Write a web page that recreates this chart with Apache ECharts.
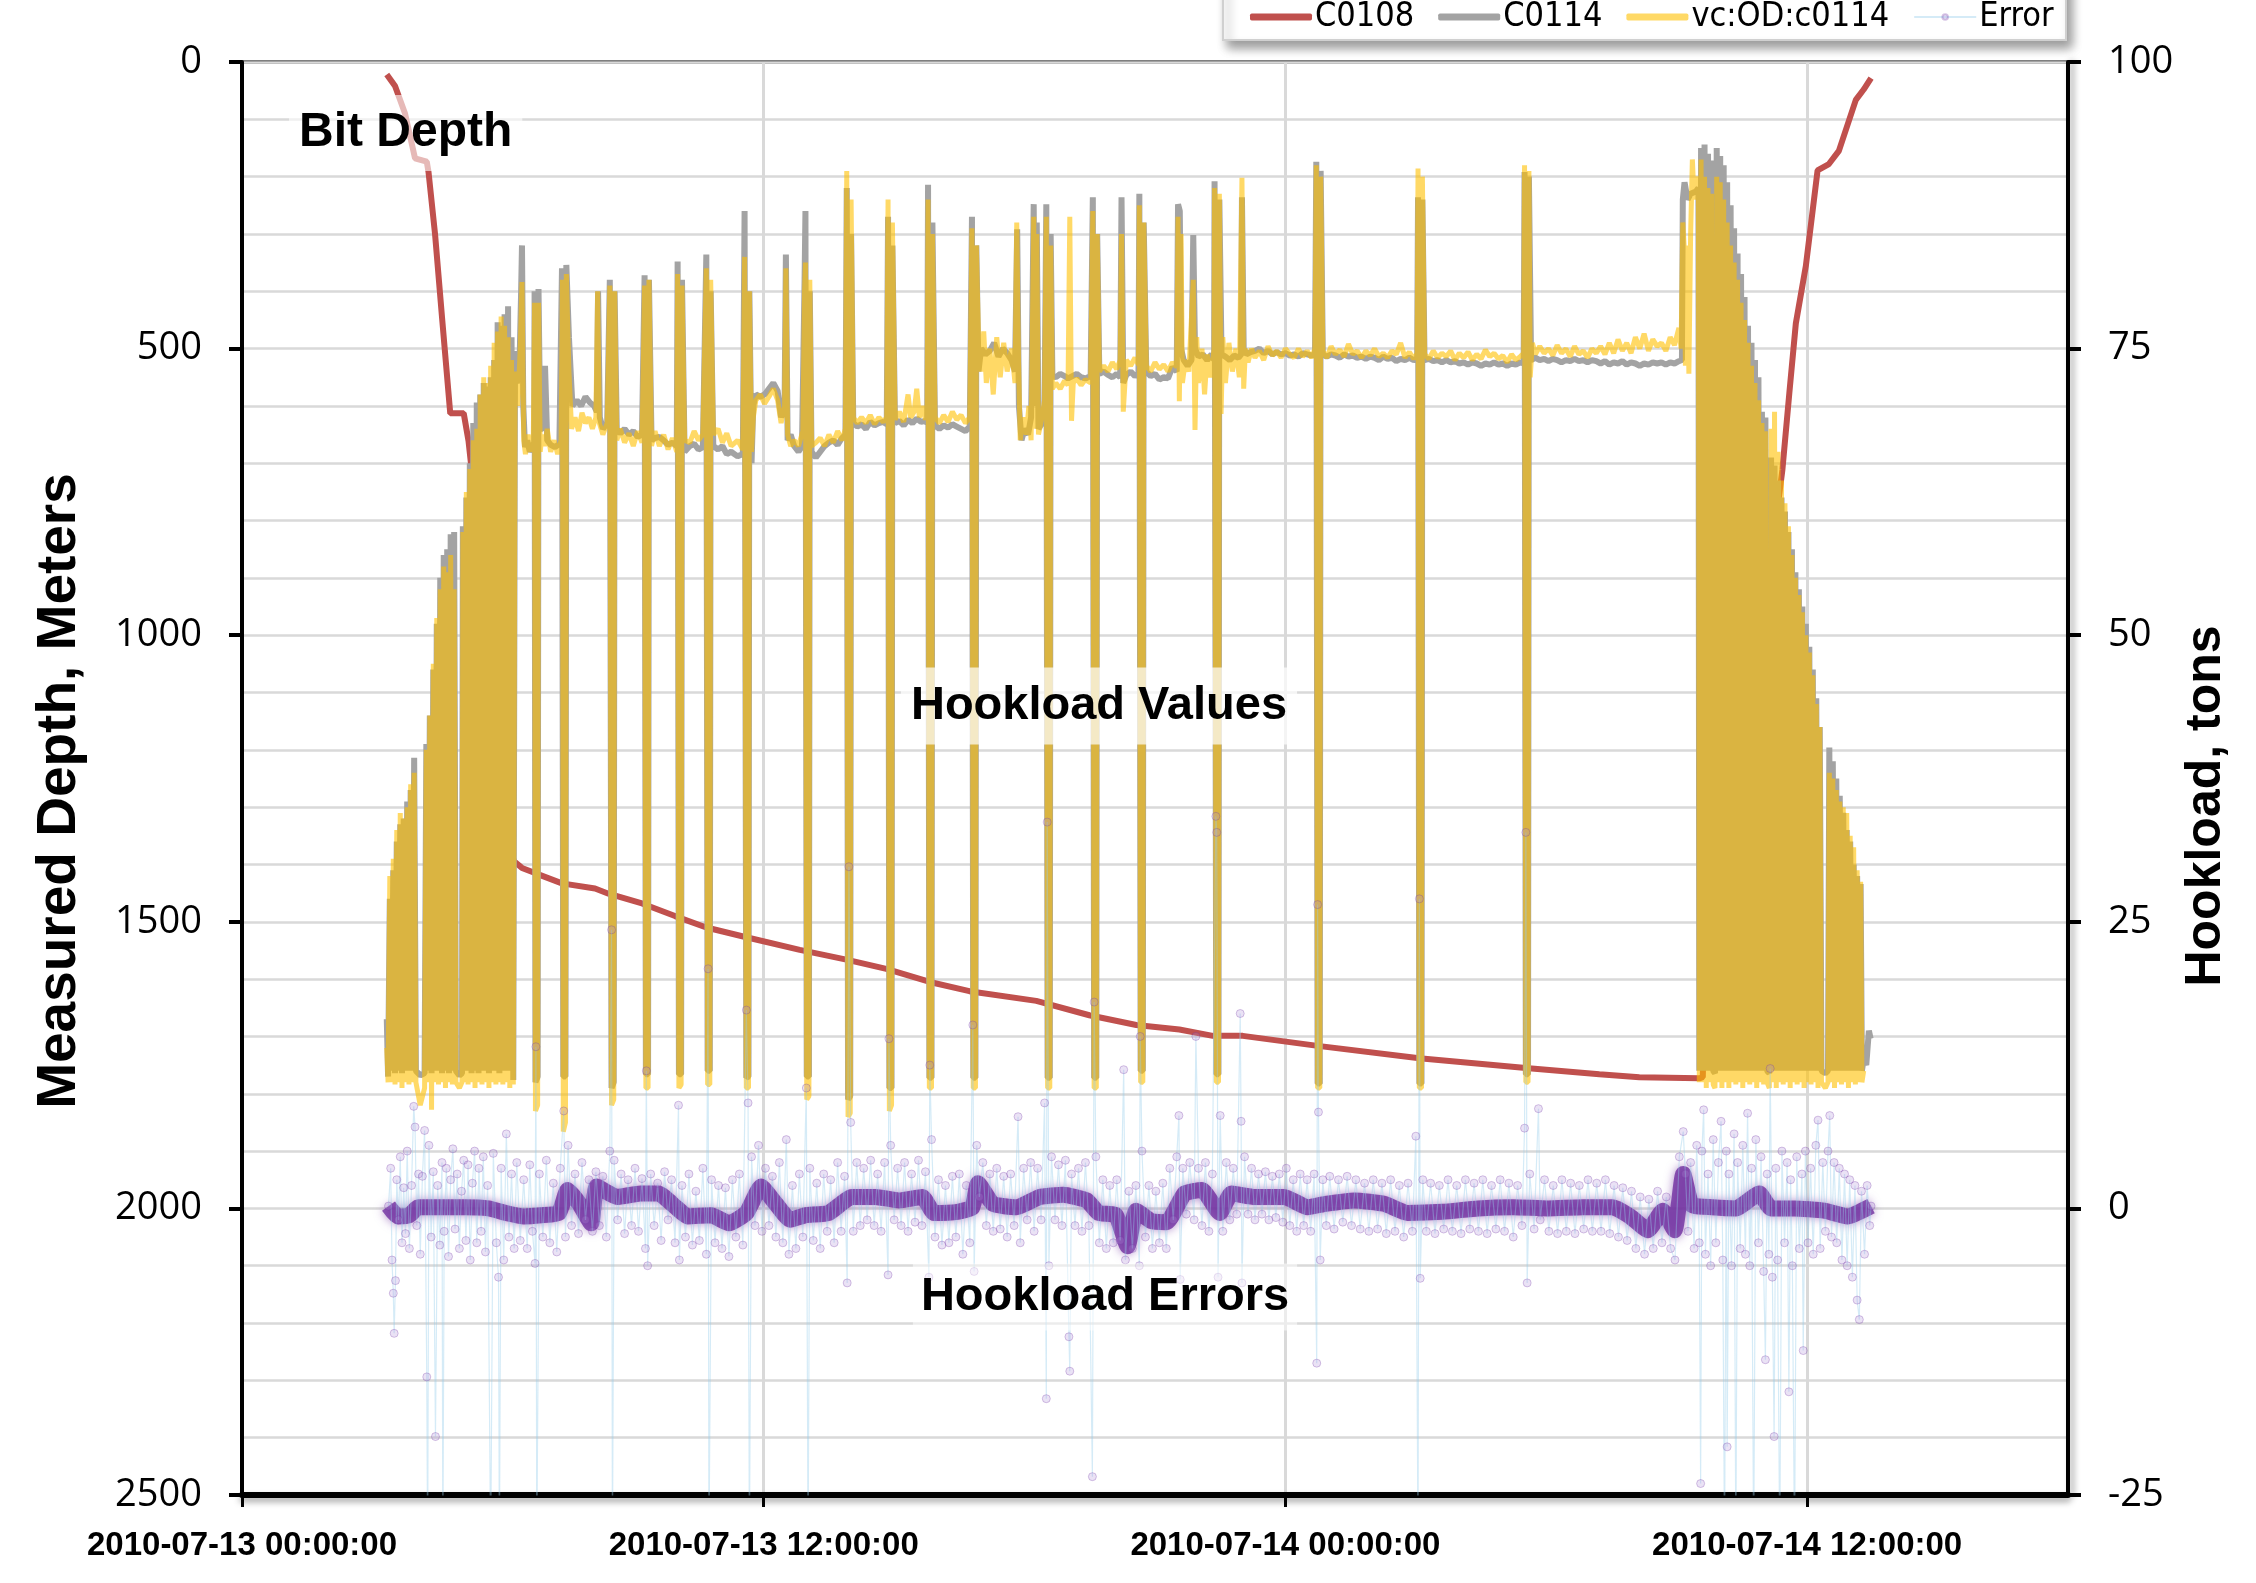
<!DOCTYPE html>
<html><head><meta charset="utf-8">
<script src="https://cdn.jsdelivr.net/npm/echarts@6/dist/echarts.min.js"></script>
<style>html,body{margin:0;padding:0;background:#fff}#c{width:2256px;height:1583px}</style>
</head><body><div id="c"></div>
<script>
// ---- tick labels ----
const xTickHours = [0, 12, 24, 36];
const xTickLabels = ['2010-07-13 00:00:00', '2010-07-13 12:00:00', '2010-07-14 00:00:00', '2010-07-14 12:00:00'];

// ---- C0108 : bit depth (m) vs hours since 2010-07-13 00:00 ----
const bitDepth = [[3.33,22],[3.52,42],[3.75,90],[3.98,168],[4.25,174],[4.29,192],[4.44,300],[4.60,445],[4.79,613],[5.10,613],[5.21,661],[5.33,745],[5.52,865],[5.75,1045],[5.98,1226],[6.13,1358],[6.25,1394],[6.44,1406],[6.74,1415],[7.36,1433],[8.12,1442],[8.43,1451],[9.20,1468],[9.96,1490],[10.68,1510],[11.60,1527],[12.83,1549],[13.90,1566],[14.82,1582],[15.82,1605],[16.73,1621],[18.27,1638],[19.49,1663],[20.57,1680],[21.56,1688],[22.33,1699],[23.02,1699],[24.70,1716],[27.08,1738],[29.53,1755],[31.22,1766],[32.14,1771],[33.52,1773],[33.60,1771],[33.62,1690],[33.74,1680],[33.88,1680],[33.98,1624],[34.28,1435],[34.59,1246],[34.90,1012],[35.05,879],[35.16,879],[35.28,801],[35.43,712],[35.59,578],[35.74,456],[35.97,356],[36.24,189],[36.50,178],[36.73,155],[37.12,66],[37.30,48],[37.47,28]];

// ---- C0114 : hookload (tons) ----
const hookC0114 = [[3.33,16.5],[3.36,11.5],[3.40,27],[3.44,12],[3.48,29.5],[3.52,11.8],[3.56,32],[3.60,12],[3.64,33.5],[3.68,11.8],[3.72,34],[3.76,12],[3.80,35.5],[3.84,12],[3.88,36.5],[3.92,12],[3.96,39.3],[4.00,12],[4.10,11.6],[4.20,11.8],
[4.24,40.5],[4.28,12],[4.32,43],[4.36,11.8],[4.40,47],[4.44,12],[4.48,51],[4.52,12],[4.56,55],[4.60,11.8],[4.64,57],[4.68,12],[4.72,57.5],[4.76,11.8],[4.80,58.8],[4.84,12],[4.88,59],[4.92,12],[5.00,11.6],[5.06,11.8],
[5.08,59.5],[5.12,12],[5.16,62],[5.20,12],[5.24,65],[5.28,11.8],[5.32,68.5],[5.36,12],[5.40,70.3],[5.44,11.8],[5.48,71],[5.52,12],[5.56,72],[5.60,12],[5.64,71.7],[5.68,11.8],[5.72,72.5],[5.76,12],[5.80,74],[5.84,12],[5.88,77.3],[5.92,11.8],[5.96,77],[6.00,12],[6.04,78],[6.08,12],[6.12,78.7],[6.16,12],[6.20,76],[6.24,11.2],
[6.28,74.8],[6.32,72],[6.38,73],[6.42,80],[6.44,84],[6.47,70],[6.51,66.4],[6.56,67],[6.62,66],[6.68,66.5],[6.72,66.8],
[6.73,80],[6.75,11],[6.80,11.5],[6.82,80.2],[6.86,68],[6.92,68],[6.97,73.5],[7.02,67],[7.10,66.6],[7.20,66.4],[7.30,66.7],
[7.36,82],[7.39,11.5],[7.44,11.5],[7.46,82.3],[7.52,76],[7.60,70],[7.70,70.5],[7.80,70],[7.90,70.8],[8.00,70.3],[8.10,70],[8.16,69.5],[8.19,80],[8.23,69],[8.30,68],[8.40,68.5],
[8.46,81],[8.50,10.5],[8.55,11],[8.57,80],[8.62,68],[8.70,67.6],[8.80,68],[8.90,67.5],[9.00,67.8],[9.10,67.3],[9.20,67.5],
[9.26,81.4],[9.29,11.7],[9.34,11.7],[9.36,81],[9.42,67],[9.50,67.2],[9.60,67.3],[9.70,67],[9.80,66.6],[9.90,66.8],[10.00,66.5],
[10.02,82.6],[10.05,11.7],[10.10,11.7],[10.12,81],[10.18,66],[10.30,66.5],[10.40,66.7],[10.50,66.2],[10.60,66.4],
[10.68,83.2],[10.71,12],[10.76,12],[10.78,80],[10.84,66.5],[10.95,66.2],[11.05,66.5],[11.15,65.8],[11.25,66],[11.40,65.6],[11.52,65.8],
[11.56,87],[11.60,11.4],[11.65,11.5],[11.67,80],[11.72,65],[11.76,70],[11.82,71],[11.92,70.8],[12.02,71],[12.12,71.5],[12.22,72],[12.32,71.3],[12.40,69],
[12.48,70],[12.51,83.2],[12.55,67],[12.62,67.5],[12.70,66.5],[12.80,66],[12.88,66.5],
[12.94,81],[12.96,87],[12.99,11.5],[13.04,11.5],[13.06,80],[13.10,66],[13.20,65.5],[13.30,66],[13.40,66.5],[13.50,66.8],[13.60,67],[13.70,66.6],[13.80,67.2],[13.88,67.5],
[13.91,89],[13.94,9.5],[13.99,9.8],[14.01,85],[14.06,68.5],[14.15,68.2],[14.25,68.4],[14.35,68],[14.45,68.6],[14.55,68.3],[14.65,68.5],[14.75,68.6],[14.83,68.4],
[14.86,86.5],[14.89,10.5],[14.94,10.5],[14.96,84],[15.02,68.5],[15.12,68.7],[15.22,68.3],[15.32,68.8],[15.42,68.5],[15.52,68.9],[15.62,68.6],[15.72,68.7],[15.76,68.5],
[15.78,89.3],[15.81,11.4],[15.86,11.4],[15.88,86],[15.94,68.3],[16.04,68],[16.14,68.3],[16.24,68.1],[16.34,68.4],[16.44,68.2],[16.54,68],[16.64,67.8],[16.74,68.2],
[16.79,86.5],[16.82,11.4],[16.87,11.4],[16.89,84],[16.94,73],[17.00,75],[17.10,74.5],[17.20,74.8],[17.30,75.5],[17.40,74.3],[17.50,75],[17.60,74.6],[17.70,74],[17.78,73],
[17.83,85.4],[17.87,70],[17.93,67],[18.00,68],[18.08,67.5],[18.15,69],[18.21,87.6],[18.24,70],[18.28,86],[18.32,68],[18.40,68.5],[18.46,70],
[18.50,87.6],[18.53,11.4],[18.58,11.4],[18.60,85],[18.64,72.6],[18.72,72.5],[18.82,72.8],[18.92,72.6],[19.00,72.4],[19.10,72.6],[19.20,72.8],[19.30,72.5],[19.40,72.4],[19.52,72.6],
[19.57,88.2],[19.60,11.4],[19.65,11.4],[19.67,85],[19.72,72.8],[19.82,73],[19.92,72.7],[20.02,72.5],[20.12,72.8],[20.20,72.5],
[20.23,88.2],[20.27,72],[20.34,72.7],[20.44,73],[20.54,72.6],[20.62,72.8],
[20.64,88.5],[20.67,12],[20.72,12],[20.74,86],[20.80,73],[20.90,72.6],[21.00,72.8],[21.10,72.3],[21.20,72.5],[21.30,72.4],[21.40,73.4],[21.50,73],
[21.53,87.6],[21.57,87],[21.60,75],[21.66,74],[21.75,73.5],[21.84,74],[21.88,84.9],[21.92,75],[22.00,74.3],[22.10,74.5],[22.20,74],[22.30,74.5],[22.36,74],
[22.37,89.6],[22.41,11.7],[22.46,11.7],[22.48,88],[22.53,74.5],[22.62,74.3],[22.72,74],[22.82,74.4],[22.92,74.2],[22.98,74.5],
[23.00,88.2],[23.04,75],[23.10,74.5],[23.20,74.7],[23.30,74.8],[23.40,75],[23.50,74.6],[23.60,74.8],[23.70,74.5],[23.80,74.7],[23.90,74.5],[24.00,74.6],[24.10,74.4],[24.20,74.5],[24.30,74.3],[24.40,74.6],[24.50,74.5],[24.60,74.4],[24.68,74.5],
[24.71,91.3],[24.74,10.9],[24.79,10.9],[24.81,90.5],[24.86,74.5],[24.95,74.3],[25.05,74.5],[25.15,74.4],[25.25,74.2],[25.35,74.5],[25.45,74.3],[25.55,74.4],[25.65,74.2],[25.75,74.3],[25.85,74.1],[25.95,74.3],[26.05,74.2],[26.15,74],[26.25,74.3],[26.35,74.1],[26.45,74.2],[26.55,73.9],[26.65,74.1],[26.75,74],[26.85,74.2],[26.95,74],[27.03,74.1],
[27.05,88.2],[27.08,10.9],[27.13,10.9],[27.15,88],[27.20,74],[27.30,74.1],[27.40,73.9],[27.50,74],[27.60,73.8],[27.70,74],[27.80,73.8],[27.90,73.9],[28.00,73.7],[28.10,73.8],[28.20,73.6],[28.30,73.8],[28.40,73.7],[28.50,73.5],[28.60,73.7],[28.70,73.6],[28.80,73.8],[28.90,73.6],[29.00,73.7],[29.10,73.5],[29.20,73.7],[29.30,73.6],[29.40,73.8],[29.48,73.7],
[29.50,90.4],[29.53,11.7],[29.58,11.7],[29.60,90],[29.65,74],[29.75,74.2],[29.85,74],[29.95,74.1],[30.05,73.9],[30.15,74.1],[30.25,74],[30.35,73.8],[30.45,74],[30.55,73.9],[30.65,74.1],[30.75,73.9],[30.85,74],[30.95,73.8],[31.05,74],[31.15,73.9],[31.25,73.7],[31.35,73.9],[31.45,73.6],[31.55,73.8],[31.65,73.7],[31.75,73.9],[31.85,73.6],[31.95,73.8],[32.05,73.7],[32.15,73.5],[32.25,73.7],[32.35,73.6],[32.45,73.8],[32.55,73.7],[32.65,73.8],[32.75,73.6],[32.85,73.8],[32.95,73.7],[33.05,73.9],
[33.12,74],[33.14,88],[33.18,89.5],[33.25,88],[33.32,88.5],[33.44,88.7],[33.50,89],
[33.52,12],[33.56,92.5],[33.60,12],[33.64,92.8],[33.68,12],[33.72,92],[33.76,12],[33.80,91.4],[33.84,12],[33.88,11.8],
[33.92,92.5],[33.96,12],[34.00,91.8],[34.04,12],[34.08,91],[34.12,12],[34.16,89.5],[34.20,12],[34.24,87.5],[34.28,12],[34.32,85.5],[34.36,12],[34.40,83.3],[34.44,12],[34.48,81.5],[34.52,12],[34.56,79.5],[34.60,12],[34.64,77],[34.68,12],[34.72,75.5],[34.76,12],[34.80,74],[34.84,12],[34.88,72.5],[34.92,12],[34.96,69.5],[35.00,12],[35.04,69],[35.08,12],[35.13,11.8],
[35.17,65.5],[35.21,12],[35.25,64.8],[35.29,12],[35.33,63.5],[35.37,12],[35.41,62],[35.45,12],[35.49,60.8],[35.53,12],[35.57,59],[35.61,12],[35.65,57.5],[35.69,12],[35.73,55.5],[35.77,12],[35.81,54],[35.85,12],[35.89,52.5],[35.93,12],[35.97,51],[36.01,12],[36.05,49],[36.09,12],[36.13,47],[36.17,12],[36.21,44.5],[36.25,12],[36.29,42],[36.33,12],[36.42,11.8],[36.48,12],
[36.51,40.2],[36.55,12],[36.59,39],[36.63,12],[36.67,37.5],[36.71,12],[36.75,36],[36.79,12],[36.83,34.5],[36.87,12],[36.91,33],[36.95,12],[36.99,32],[37.03,12],[37.07,30],[37.11,12],[37.15,29],[37.19,12],[37.23,28.3],[37.26,12],
[37.30,13],[37.36,12.5],[37.42,15.5],[37.46,14.8]];

// ---- vc:OD:c0114 : modelled hookload (tons) ----
const hookVC = [[3.33,14],[3.36,11],[3.40,29],[3.44,11],[3.48,30.5],[3.52,10.8],[3.56,33],[3.60,11],[3.64,34.5],[3.68,10.5],[3.72,34],[3.76,11],[3.80,35],[3.84,10.8],[3.88,37],[3.92,11],[3.96,38],[4.00,11],[4.10,9],[4.20,10.5],
[4.24,40],[4.28,11],[4.32,43],[4.36,8.6],[4.40,47.5],[4.44,11],[4.48,51.5],[4.52,10.8],[4.56,54],[4.60,11],[4.64,56],[4.68,10.5],[4.72,55.5],[4.76,11],[4.80,57],[4.84,10.8],[4.88,54],[4.92,11],[5.00,10.5],[5.06,11],
[5.08,59],[5.12,11],[5.16,62.5],[5.20,10.8],[5.24,64.5],[5.28,11],[5.32,67],[5.36,10.5],[5.40,68],[5.44,11],[5.48,71],[5.52,10.8],[5.56,72.5],[5.60,11],[5.64,72],[5.68,10.5],[5.72,73.5],[5.76,11],[5.80,75.5],[5.84,10.8],[5.88,76.5],[5.92,11],[5.96,77.8],[6.00,10.8],[6.04,77],[6.08,11],[6.12,76],[6.16,10.5],[6.20,74],[6.24,10.8],
[6.28,73],[6.34,70],[6.40,75],[6.44,80.8],[6.48,67],[6.52,65.8],[6.58,67.5],[6.64,66],[6.70,67],
[6.73,79],[6.75,8.5],[6.80,9],[6.82,79],[6.86,66],[6.90,67.5],[6.96,66.5],[7.02,68],[7.10,66],[7.18,67],[7.26,65.8],[7.34,67],
[7.37,81],[7.39,6.7],[7.44,7.5],[7.46,81.5],[7.52,73],[7.58,68],[7.66,69],[7.74,67.8],[7.82,69.4],[7.90,68.5],[7.98,69],[8.06,68],[8.14,69],[8.18,80],[8.22,68.5],[8.30,67.5],[8.40,68.5],
[8.46,80.5],[8.50,9],[8.55,9.5],[8.57,80],[8.62,67],[8.70,68],[8.80,66.8],[8.90,67.6],[9.00,66.5],[9.10,67.8],[9.20,66.8],
[9.26,80.5],[9.29,10.5],[9.34,10.5],[9.36,81],[9.42,66.5],[9.50,67.8],[9.60,66.5],[9.70,67.5],[9.80,66.2],[9.90,67.2],[10.00,66],
[10.02,81.5],[10.05,10.5],[10.10,10.8],[10.12,80.5],[10.18,67],[10.30,66.8],[10.40,67.8],[10.50,67],[10.60,67.5],
[10.68,82],[10.71,10.8],[10.76,10.8],[10.78,81],[10.84,67.5],[10.95,68],[11.05,66.8],[11.15,67.6],[11.25,66.5],[11.40,67],[11.52,66.2],
[11.56,83],[11.60,10.5],[11.65,10.5],[11.67,80],[11.72,66],[11.76,69],[11.82,70.5],[11.92,71],[12.02,70.2],[12.12,70.8],[12.22,71.5],[12.32,70.5],[12.40,68.5],
[12.48,70],[12.51,82],[12.55,67.5],[12.62,66.5],[12.70,67],[12.80,66.5],[12.90,67.8],
[12.94,80],[12.96,82.5],[12.99,9.5],[13.04,9.8],[13.06,81],[13.10,66.5],[13.20,66.8],[13.30,67.2],[13.40,66.5],[13.50,67.5],[13.60,66.8],[13.70,67.8],[13.80,67],[13.88,68],
[13.91,90.5],[13.94,8],[13.99,8.3],[14.01,88],[14.06,69],[14.15,68.5],[14.25,69],[14.35,68.5],[14.45,69.2],[14.55,68.4],[14.65,69],[14.75,68.6],[14.83,69],
[14.86,88],[14.89,8.5],[14.94,9],[14.96,86],[15.02,68.8],[15.12,69.5],[15.22,68.6],[15.32,71],[15.38,69],[15.46,69.5],[15.52,71.5],[15.58,69],[15.66,70],[15.72,68.8],[15.76,69.3],
[15.78,88],[15.81,10.5],[15.86,10.5],[15.88,85],[15.94,69],[16.04,68.5],[16.14,69.2],[16.24,68.6],[16.34,69.5],[16.44,68.8],[16.54,69.2],[16.64,68.5],[16.74,69],
[16.79,85.5],[16.82,10.5],[16.87,10.5],[16.89,84],[16.94,76],[17.00,73],[17.06,76.5],[17.12,72],[17.20,75],[17.28,71],[17.36,76],[17.44,72.5],[17.52,75.5],[17.60,73],[17.70,75],[17.78,72],
[17.82,86],[17.86,74],[17.90,67],[17.96,69],[18.04,67.5],[18.10,70],[18.15,67],[18.21,86.5],[18.24,68],[18.28,85],[18.32,67.5],[18.40,69],[18.46,70.5],
[18.50,86.5],[18.53,10.5],[18.58,10.5],[18.60,84],[18.64,71.5],[18.72,72],[18.82,71.5],[18.92,72.2],[19.00,71.8],[19.04,86.5],[19.08,68.7],[19.12,72],[19.20,72.4],[19.30,71.8],[19.40,72.3],[19.52,72],
[19.57,87],[19.60,10.5],[19.65,10.5],[19.67,85],[19.72,73],[19.82,73.5],[19.92,73],[20.02,73.8],[20.12,73.2],[20.20,74],
[20.23,85],[20.27,69.5],[20.34,74],[20.44,73.5],[20.54,74.2],[20.62,73.6],
[20.64,87.5],[20.67,11],[20.72,11],[20.74,86],[20.80,73.5],[20.90,73],[21.00,73.8],[21.10,73.2],[21.20,73.6],[21.30,73],[21.40,73.8],[21.50,73.4],
[21.53,86.5],[21.56,70.4],[21.60,85],[21.63,72],[21.70,74],[21.78,73],[21.88,81],[21.92,67.9],[21.96,76],[22.00,72],[22.08,75],[22.14,71],[22.20,74.5],[22.28,72.5],[22.36,75],
[22.37,89],[22.41,11],[22.46,11],[22.48,88.5],[22.52,69.3],[22.56,76],[22.62,72],[22.70,75.5],[22.78,73],[22.86,75],[22.94,72.5],
[23.00,89.9],[23.04,71.5],[23.08,75],[23.14,73.8],[23.22,75],[23.30,74.2],[23.40,74.8],[23.50,74],[23.60,75.2],[23.70,74.4],[23.80,74.8],[23.90,74.2],[24.00,75],[24.10,74.5],[24.20,74.2],[24.30,75],[24.40,74.3],[24.50,74.8],[24.60,74.2],[24.68,75],
[24.71,91],[24.74,10.5],[24.79,10.5],[24.81,90],[24.86,74.8],[24.95,74.2],[25.05,75.2],[25.15,74.5],[25.25,74.9],[25.35,74.3],[25.45,75.4],[25.55,74.5],[25.65,74.8],[25.75,74.2],[25.85,74.8],[25.95,74.4],[26.05,75],[26.15,74.3],[26.25,74.6],[26.35,74.2],[26.45,74.8],[26.55,74.5],[26.65,75.5],[26.75,74.2],[26.85,74.7],[26.95,74.1],[27.03,74.6],
[27.05,90.7],[27.08,10.5],[27.13,10.5],[27.15,90],[27.20,74.5],[27.30,74.1],[27.40,74.8],[27.50,74.2],[27.60,74.6],[27.70,74.3],[27.80,74.8],[27.90,74],[28.00,74.6],[28.10,74.2],[28.20,74.7],[28.30,74],[28.40,74.5],[28.50,74.1],[28.60,74.9],[28.70,74.3],[28.80,74.6],[28.90,74.1],[29.00,74.4],[29.10,73.8],[29.20,74.5],[29.30,74],[29.40,74.3],[29.48,74.6],
[29.50,91],[29.53,11],[29.58,11],[29.60,90.5],[29.63,72.5],[29.68,75.5],[29.75,74.5],[29.85,75.2],[29.95,74.6],[30.05,75],[30.15,74.4],[30.25,75.3],[30.35,74.6],[30.45,75],[30.55,74.3],[30.65,75.2],[30.75,74.5],[30.85,74.8],[30.95,74.2],[31.05,75],[31.15,74.6],[31.25,75.2],[31.35,74.5],[31.45,75.5],[31.55,74.6],[31.65,75.8],[31.75,74.8],[31.85,75.5],[31.95,74.6],[32.05,76],[32.15,75],[32.25,76.3],[32.35,74.8],[32.45,75.8],[32.55,75.2],[32.65,75.5],[32.75,74.8],[32.85,76],[32.95,75.3],[33.05,76.8],
[33.10,75],[33.14,86],[33.17,84],[33.20,73.5],[33.24,84],[33.28,72.8],[33.32,85],[33.36,91.5],[33.40,88],[33.46,90],[33.50,89],
[33.52,11],[33.56,91.5],[33.60,11],[33.64,90],[33.68,10.5],[33.72,89],[33.76,11],[33.80,88.5],[33.84,10.8],[33.88,10.5],
[33.92,90],[33.96,11],[34.00,89.5],[34.04,10.5],[34.08,88],[34.12,11],[34.16,86],[34.20,10.5],[34.24,84],[34.28,11],[34.32,82.5],[34.36,10.8],[34.40,81],[34.44,11],[34.48,79],[34.52,10.5],[34.56,77.5],[34.60,11],[34.64,75.5],[34.68,10.8],[34.72,73.5],[34.76,11],[34.80,72],[34.84,10.5],[34.88,70.5],[34.92,11],[34.96,68.5],[35.00,10.8],[35.04,67.8],[35.08,11],[35.13,10.5],
[35.17,68],[35.21,11],[35.25,69.5],[35.29,10.5],[35.33,66],[35.37,11],[35.41,63.5],[35.45,10.8],[35.49,61.5],[35.53,11],[35.57,59.5],[35.61,10.5],[35.65,57],[35.69,11],[35.73,55],[35.77,10.8],[35.81,53.5],[35.85,11],[35.89,52],[35.93,10.5],[35.97,50],[36.01,11],[36.05,48.5],[36.09,10.8],[36.13,46.5],[36.17,11],[36.21,44],[36.25,10.5],[36.29,42],[36.33,11],[36.42,10.5],[36.48,11],
[36.51,38],[36.55,11],[36.59,37.5],[36.63,10.5],[36.67,36.5],[36.71,11],[36.75,35.5],[36.79,10.8],[36.83,35],[36.87,11],[36.91,34.5],[36.95,10.5],[36.99,32.5],[37.03,11],[37.07,31.5],[37.11,10.8],[37.15,29.5],[37.19,11],[37.23,28.5],[37.26,11],[37.30,12]];

// ---- Error: dense centre of the error cloud (tons) ----
const errorCore = [[3.37,0.2],[3.58,-0.7],[3.85,-0.6],[4.05,0.1],[4.59,0.1],[5.13,0.1],[5.67,0],[6.07,-0.4],[6.48,-0.7],[6.88,-0.6],[7.29,-0.4],[7.49,1.6],[7.76,0.4],[8.03,-1.3],[8.16,1.9],[8.63,1.0],[9.17,1.3],[9.58,1.3],[9.98,0.1],[10.25,-0.7],[10.79,-0.6],[11.2,-1.3],[11.6,-0.4],[11.94,1.9],[12.28,0.4],[12.61,-1.0],[12.95,-0.6],[13.49,-0.4],[14.03,1.0],[14.57,1.0],[15.11,0.7],[15.65,1.0],[15.92,-0.4],[16.46,-0.3],[16.8,0.1],[16.93,2.2],[17.27,0.4],[17.81,0.1],[18.35,1.0],[18.89,1.2],[19.43,0.7],[19.7,-0.4],[20.1,-0.6],[20.37,-3.3],[20.57,-0.2],[20.91,-1.1],[21.27,-1.2],[21.68,1.3],[22.08,1.6],[22.49,-0.4],[22.76,1.3],[23.3,1.0],[23.97,1.0],[24.51,0.1],[24.92,0.4],[25.59,0.7],[26.27,0.4],[26.81,-0.4],[27.62,-0.3],[28.43,0],[29.24,0.1],[30.04,0],[30.85,0.1],[31.53,0.1],[31.93,-0.7],[32.34,-1.9],[32.68,-0.2],[32.95,-1.9],[33.15,3.0],[33.35,0.3],[33.82,0.1],[34.36,0],[34.9,1.3],[35.17,0],[35.71,0],[36.39,-0.2],[36.93,-0.7],[37.47,0.2]];

// ---- Error: individual error samples (tons) ----
const errorPts = [[3.37,0.2],[3.42,3.5],[3.45,-4.5],[3.48,-7.4],[3.50,-10.9],[3.53,-6.3],[3.56,2.5],[3.60,-1],[3.64,4.5],[3.68,-3],[3.72,1.8],[3.76,-2.2],[3.80,5],[3.85,-3.5],[3.90,2],[3.95,8.9],[3.98,7.1],[4.02,-1.5],[4.06,3],[4.10,-4],[4.15,2.8],[4.20,6.8],[4.25,-14.7],[4.27,-30],[4.30,5.5],[4.35,-2.5],[4.40,3.2],[4.45,-19.9],[4.50,2],[4.55,-3.2],[4.60,4],[4.62,-30],[4.65,-2],[4.70,3.5],[4.75,-4.2],[4.80,2.5],[4.85,5.2],[4.90,-1.8],[4.95,3],[5.00,-3.5],[5.05,1.5],[5.10,4.2],[5.15,-2.8],[5.20,3.8],[5.25,-4.5],[5.30,2.2],[5.35,5],[5.40,-3],[5.45,3.5],[5.50,-2],[5.55,4.5],[5.60,-3.8],[5.65,2],[5.72,-30],[5.78,4.8],[5.85,-3],[5.90,-6],[5.92,-30],[5.96,3.5],[6.02,-4.5],[6.08,6.5],[6.14,-2.5],[6.20,3],[6.26,-3.5],[6.32,4],[6.40,-2.8],[6.48,2.5],[6.56,-3.5],[6.62,3.8],[6.68,-2],[6.74,-4.8],[6.76,14.1],[6.78,-30],[6.84,3],[6.92,-2.5],[7.00,4.2],[7.08,-3],[7.16,2.2],[7.24,-3.8],[7.32,3.5],[7.40,8.5],[7.44,-2.5],[7.50,5.5],[7.58,-1.5],[7.66,3],[7.74,-2.2],[7.82,4],[7.90,-1],[7.98,2.5],
[8.06,-2],[8.14,3.2],[8.22,-1.5],[8.30,2.8],[8.38,-2.5],[8.46,5],[8.50,24.3],[8.52,-30],[8.56,4.2],[8.64,-1],[8.72,3],[8.80,-2.2],[8.88,2.5],[8.96,-1.5],[9.04,3.5],[9.12,-2],[9.20,2.6],[9.28,-3.5],[9.30,12],[9.33,-5],[9.40,3],[9.48,-1.5],[9.56,2.2],[9.64,-2.8],[9.72,3.2],[9.80,-1],[9.88,2.5],[9.96,-3],[10.04,9],[10.06,-4.5],[10.12,2],[10.20,-2.5],[10.28,3],[10.36,-3.2],[10.44,1.5],[10.52,-2.8],[10.60,3.5],[10.68,-4],[10.72,20.9],[10.74,-30],[10.80,2.5],[10.88,-3],[10.96,2],[11.04,-3.5],[11.12,1.8],[11.20,-4.2],[11.28,2.5],[11.36,-2.5],[11.44,3],[11.52,-3.2],[11.60,17.3],[11.64,9.2],[11.67,-30],[11.72,4.5],[11.80,-1.5],[11.88,5.5],[11.96,-2],[12.04,3.5],[12.12,-1.5],[12.20,2.8],[12.28,-2.5],[12.36,4],[12.44,-3],[12.52,6],[12.58,-4],[12.66,2],[12.74,-3.5],[12.82,3],[12.90,-2.5],[12.98,10.5],[13.02,-30],[13.06,3.5],[13.14,-2.8],[13.22,2.2],[13.30,-3.5],[13.38,3],[13.46,-2],[13.54,2.5],[13.62,-3],[13.70,4],[13.78,-2],[13.86,2.8],[13.92,-6.5],[13.96,29.8],[14.00,7.5],[14.06,-2],[14.14,4],[14.22,-1.5],[14.30,3.5],[14.38,-1],[14.46,4.2],[14.54,-1.5],[14.62,3],[14.70,-2],[14.78,4],[14.86,-5.8],[14.88,14.8],[14.92,5.5],[15.00,-1],[15.08,3.5],[15.16,-1.5],[15.24,4],[15.32,-2],[15.40,3],[15.48,-1.2],[15.56,4.2],[15.64,-1.5],[15.72,3.2],[15.80,-6],[15.82,12.5],[15.86,6],[15.94,-2.5],[16.02,2.5],[16.10,-3.2],[16.18,2],[16.26,-3],[16.34,2.8],[16.42,-2.5],[16.50,3],[16.58,-4],[16.66,2],[16.74,-3],[16.81,16],[16.84,-5.5],[16.90,5.5],[16.96,1],[17.04,4],[17.12,-1.5],[17.20,3],[17.28,-2],[17.36,3.5],[17.44,-1.8],[17.52,2.8],[17.60,-2.5],[17.68,3],[17.76,-1.5],[17.85,8],[17.90,-3],[17.98,3.5],[18.06,-1],[18.14,4],[18.22,-2],[18.30,3.5],[18.38,-1],[18.46,9.2],[18.50,-16.6],[18.52,33.7],[18.56,-5],[18.62,4.5],[18.70,-1],[18.78,3.8],[18.86,-1.5],[18.94,4.2],[19.02,-11.2],[19.04,-14.2],[19.08,3],[19.16,-1.5],[19.24,3.5],[19.32,-2],[19.40,4],[19.48,-1.5],[19.56,-23.4],[19.60,18],[19.64,4.5],[19.72,-3],[19.80,2.5],[19.88,-3.5],[19.96,2],[20.04,-3],[20.12,2.5],[20.20,-2.8],[20.28,12.1],[20.32,-4.5],[20.40,1.5],[20.48,-3.5],[20.56,2],[20.64,-5],[20.66,15],[20.70,5],[20.78,-2.5],[20.86,2],[20.94,-3.5],[21.02,1.5],[21.10,-3],[21.18,2.2],[21.26,-3.5],[21.34,3.5],[21.42,-1],[21.50,4.5],[21.55,8.1],[21.58,-6.2],[21.64,3.5],[21.72,-0.5],[21.80,4],[21.90,-1],[21.94,15],[22.00,3.5],[22.08,-1.5],[22.16,4],[22.24,-2],[22.32,3],[22.40,34.2],[22.42,32.8],[22.45,-6],[22.50,8.1],[22.56,-2],[22.64,4],[22.72,-1],[22.80,3.5],[22.88,-0.5],[22.96,17],[22.98,7.6],[23.00,-6.5],[23.06,4.5],[23.14,-0.5],[23.22,3.5],[23.30,-1],[23.38,3],[23.46,-0.5],[23.54,3.2],[23.62,-1],[23.70,2.8],[23.78,-0.8],[23.86,3],[23.94,-1.2],[24.02,3.5],[24.10,-1.5],[24.18,2.5],[24.26,-2],[24.34,3],[24.42,-1.5],[24.50,2.5],[24.58,-2],[24.66,3],[24.72,-13.5],[24.74,26.5],[24.76,8.4],[24.80,-4.5],[24.86,2.5],[24.94,-1.5],[25.02,2.8],[25.12,-1.8],[25.22,2.5],[25.32,-1.2],[25.42,2.8],[25.52,-1.5],[25.62,2.5],[25.72,-1.8],[25.82,2.2],[25.92,-2],[26.02,2.5],[26.12,-1.8],[26.22,2.2],[26.32,-2.2],[26.42,2.5],[26.52,-2],[26.62,2],[26.72,-2.5],[26.82,2.2],[26.92,-2],[27.00,6.3],[27.05,-30],[27.08,27],[27.10,-6.1],[27.16,2.5],[27.24,-2],[27.34,2.2],[27.44,-2.2],[27.54,2],[27.64,-1.8],[27.74,2.5],[27.84,-2],[27.94,2],[28.04,-2.2],[28.14,2.5],[28.24,-1.8],[28.34,2.2],[28.44,-2],[28.54,2.5],[28.64,-2.2],[28.74,2],[28.84,-1.8],[28.94,2.5],[29.04,-2],[29.14,2.2],[29.24,-2.5],[29.34,2],[29.44,-1.5],[29.50,7],[29.53,32.8],[29.56,-6.5],[29.62,3],[29.72,-1.8],[29.82,8.7],[29.86,-1],[29.96,2.5],[30.06,-2],[30.16,2],[30.26,-2.2],[30.36,2.5],[30.46,-2],[30.56,2.2],[30.66,-2.2],[30.76,2],[30.86,-1.8],[30.96,2.5],[31.06,-2],[31.16,2.2],[31.26,-2],[31.36,2.5],[31.46,-2.2],[31.56,2],[31.66,-2.5],[31.76,1.8],[31.86,-2.8],[31.96,1.5],[32.06,-3.5],[32.16,1],[32.26,-4],[32.36,0.8],[32.46,-3.5],[32.56,1.5],[32.66,-3],[32.76,1],[32.86,-3.5],[32.96,-4.5],[33.06,4.5],[33.15,6.7],[33.20,3],[33.26,-2],[33.32,4],[33.40,-3.5],[33.46,5.5],[33.52,-3],[33.55,-24],[33.58,5],[33.62,8.6],[33.66,-4],[33.72,3],[33.78,-5],[33.84,6],[33.90,-3],[33.96,4],[34.02,7.6],[34.06,-4.5],[34.10,-30],[34.14,5],[34.16,-20.8],[34.20,3],[34.26,-5],[34.32,6.5],[34.36,-30],[34.40,4],[34.46,-3.5],[34.52,5.5],[34.58,-4],[34.63,8.3],[34.68,-5],[34.72,3.5],[34.77,-30],[34.82,6],[34.88,-3],[34.94,4.5],[35.00,-5.5],[35.04,-13.2],[35.08,3],[35.12,-4],[35.15,12.2],[35.20,-6],[35.24,-19.9],[35.28,3.5],[35.32,-4.5],[35.37,-30],[35.42,5],[35.48,-3],[35.54,4],[35.58,-16],[35.62,2.5],[35.66,-5],[35.71,-30],[35.76,4.5],[35.82,-3.5],[35.88,3],[35.91,-12.4],[35.96,5],[36.02,-3],[36.08,3.5],[36.14,-4],[36.20,5.5],[36.25,7.7],[36.30,-3.5],[36.36,4],[36.42,-2],[36.48,5],[36.52,8.1],[36.56,-2.5],[36.62,4],[36.68,-3],[36.74,3.5],[36.80,-4.5],[36.86,3],[36.92,-5],[36.98,2.5],[37.04,-6],[37.10,2],[37.15,-8],[37.20,-9.7],[37.25,1.5],[37.32,-4],[37.38,2],[37.44,-1.5],[37.47,0.2]];

const chart = echarts.init(document.getElementById('c'), null, {renderer: 'canvas'});
const black = '#000';
const labelFont = "'Open Sans', 'Liberation Sans', sans-serif";
const boldFont = "'Liberation Sans', Arial, sans-serif";
const narrowFont = "'Liberation Sans Narrow', 'DejaVu Sans Condensed', 'Liberation Sans', sans-serif";

chart.setOption({
  animation: false,
  backgroundColor: '#fff',
  grid: {left: 242, right: 188, top: 62, bottom: 88, show: true, borderColor: black, borderWidth: 3, backgroundColor: 'transparent'},
  legend: {
    data: [
      {name: 'C0108', icon: 'roundRect', itemStyle: {color: '#c0504d'}},
      {name: 'C0114', icon: 'roundRect', itemStyle: {color: '#a3a3a3'}},
      {name: 'vc:OD:c0114', icon: 'roundRect', itemStyle: {color: '#ffd966'}},
      {name: 'Error'}
    ],
    left: 1250, top: 0, padding: 0, itemWidth: 62, itemHeight: 7, itemGap: 24, z: 10,
    textStyle: {fontSize: 34, fontFamily: narrowFont, color: black, padding: [0, 0, 0, -2]}
  },
  xAxis: {
    type: 'value', min: 0, max: 42, interval: 12,
    axisLine: {show: true, onZero: false, lineStyle: {color: black, width: 6, shadowBlur: 6, shadowColor: 'rgba(0,0,0,0.35)', shadowOffsetY: 4}},
    axisTick: {show: true, length: 12, customValues: xTickHours, lineStyle: {color: black, width: 3}},
    axisLabel: {customValues: xTickHours, margin: 34, fontSize: 33, fontWeight: 'bold', fontFamily: boldFont, color: black,
      formatter: v => { const i = xTickHours.indexOf(v); return i >= 0 ? xTickLabels[i] : ''; }},
    splitLine: {show: true, lineStyle: {color: '#d9d9d9', width: 3}}
  },
  yAxis: [
    {type: 'value', inverse: true, min: 0, max: 2500, interval: 500, position: 'left',
      axisLine: {show: true, lineStyle: {color: black, width: 4}},
      axisTick: {show: true, length: 13, lineStyle: {color: black, width: 4}},
      axisLabel: {margin: 40, fontSize: 38, fontFamily: labelFont, color: black, formatter: v => String(v)},
      splitLine: {show: false}},
    {type: 'value', min: -25, max: 100, interval: 25, position: 'right',
      axisLine: {show: true, lineStyle: {color: black, width: 4, shadowBlur: 6, shadowColor: 'rgba(0,0,0,0.35)', shadowOffsetX: 4}},
      axisTick: {show: true, length: 13, lineStyle: {color: black, width: 4}},
      axisLabel: {margin: 40, fontSize: 38, fontFamily: labelFont, color: black, formatter: v => String(v)},
      splitLine: {show: false}},
    {type: 'value', inverse: true, min: 0, max: 2500, interval: 100, position: 'left',
      axisLine: {show: false}, axisTick: {show: false}, axisLabel: {show: false},
      splitLine: {show: true, lineStyle: {color: '#d9d9d9', width: 2.5}}}
  ],
  series: [
    {name: 'C0108', type: 'line', yAxisIndex: 0, data: bitDepth, symbol: 'none', z: 2,
      lineStyle: {color: '#c0504d', width: 6}, itemStyle: {color: '#c0504d'}},
    {name: 'C0114', type: 'line', yAxisIndex: 1, data: hookC0114, symbol: 'none', z: 3,
      lineStyle: {color: '#a3a3a3', width: 6}, itemStyle: {color: '#a3a3a3'}},
    {name: 'vc:OD:c0114', type: 'line', yAxisIndex: 1, data: hookVC, symbol: 'none', z: 4,
      lineStyle: {color: '#ffc000', width: 5, opacity: 0.6}, itemStyle: {color: '#ffd966'}},
    {name: 'Error core', type: 'line', yAxisIndex: 1, data: errorCore, symbol: 'none', smooth: 0.15, z: 5,
      lineStyle: {color: '#7030a0', width: 16, opacity: 0.8, shadowBlur: 10, shadowColor: 'rgba(112,48,160,0.7)'}},
    {name: 'Error', type: 'line', yAxisIndex: 1, data: errorPts, symbol: 'circle', symbolSize: 8, showAllSymbol: true, z: 6,
      lineStyle: {color: 'rgba(150,205,235,0.4)', width: 1.2},
      itemStyle: {color: 'rgba(170,140,215,0.25)', borderColor: 'rgba(112,48,160,0.28)', borderWidth: 1}}
  ],
  graphic: [
    {type: 'rect', z: 0, shape: {x: 1223, y: -20, width: 843, height: 60},
      style: {fill: '#fff', stroke: '#d0d0d0', lineWidth: 2, shadowBlur: 10, shadowOffsetX: 5, shadowOffsetY: 7, shadowColor: 'rgba(0,0,0,0.4)'}},
    {type: 'text', z: 100, x: 60, y: 791, rotation: Math.PI / 2,
      style: {text: 'Measured Depth, Meters', font: 'bold 55px ' + boldFont, fill: black, align: 'center', verticalAlign: 'middle'}},
    {type: 'text', z: 100, x: 2206, y: 806, rotation: Math.PI / 2,
      style: {text: 'Hookload, tons', font: 'bold 50px ' + boldFont, fill: black, align: 'center', verticalAlign: 'middle'}},
    {type: 'text', z: 100, x: 289, y: 133,
      style: {text: 'Bit Depth', font: 'bold 48px ' + boldFont, fill: black, align: 'left', verticalAlign: 'middle', backgroundColor: 'rgba(255,255,255,0.6)', padding: [14, 10]}},
    {type: 'text', z: 100, x: 1099, y: 706,
      style: {text: 'Hookload Values', font: 'bold 47px ' + boldFont, fill: black, align: 'center', verticalAlign: 'middle', backgroundColor: 'rgba(255,255,255,0.7)', padding: [15, 10]}},
    {type: 'text', z: 100, x: 1105, y: 1297,
      style: {text: 'Hookload Errors', font: 'bold 47px ' + boldFont, fill: black, align: 'center', verticalAlign: 'middle', backgroundColor: 'rgba(255,255,255,0.5)', padding: [10, 8]}}
  ]
});
</script></body></html>
